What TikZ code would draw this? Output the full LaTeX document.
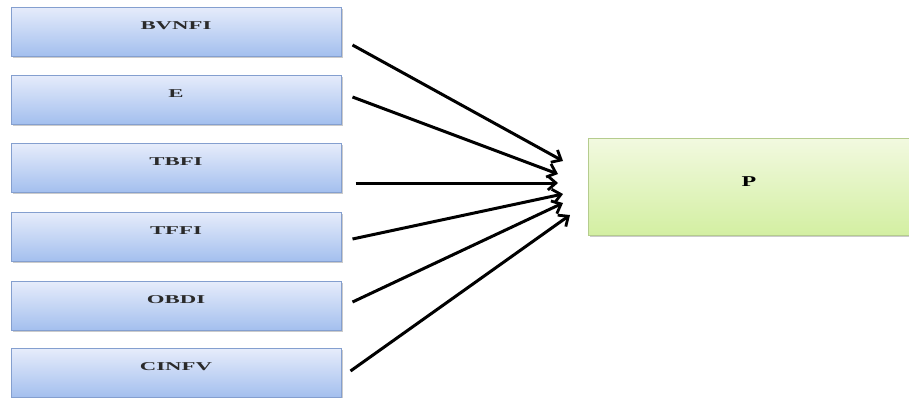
\documentclass[tikz,border=0pt]{standalone}
\usepackage{fontspec}
\setmainfont{Liberation Serif}
\usetikzlibrary{arrows.meta,shadows}
\definecolor{blueTop}{HTML}{E6ECFB}
\definecolor{blueBot}{HTML}{A3BFEE}
\definecolor{blueEdge}{HTML}{849FCF}
\definecolor{greenTop}{HTML}{F2F9E0}
\definecolor{greenBot}{HTML}{D3EFA2}
\definecolor{greenEdge}{HTML}{B5CC8E}
\definecolor{labelInk}{HTML}{2A2A2A}
\tikzset{
  inbox/.style={draw=blueEdge, line width=1pt, top color=blueTop, bottom color=blueBot,
    minimum width=330pt, minimum height=49pt, inner sep=0pt,
    drop shadow={shadow xshift=1.5pt, shadow yshift=-1.5pt, fill=black!40, opacity=0.5}},
  outbox/.style={draw=greenEdge, line width=1pt, top color=greenTop, bottom color=greenBot,
    minimum width=322pt, minimum height=97pt, inner sep=0pt,
    drop shadow={shadow xshift=1.5pt, shadow yshift=-1.5pt, fill=black!40, opacity=0.5}},
  boxtext/.style={font=\fontsize{12}{14}\selectfont\bfseries, text=labelInk},
  arr/.style={line width=3pt, -{Straight Barb[length=8pt, width=14pt, line width=2.8pt]}}
}
\newcommand{\wide}[1]{\scalebox{1.9}[1]{#1}}
\begin{document}
\begin{tikzpicture}[x=1pt, y=-1pt]
  \useasboundingbox[fill=white] (0,0) rectangle (909,397);
  % input factors
  \node[inbox] (b1) at (176,31.5) {};
  \node[inbox] (b2) at (176,99.5) {};
  \node[inbox] (b3) at (176,168) {};
  \node[inbox] (b4) at (176,237) {};
  \node[inbox] (b5) at (176,306) {};
  \node[inbox] (b6) at (176,373) {};
  \node[boxtext] (l1) at ([yshift=6]b1.center) {\wide{BVNFI}};
  \node[boxtext] (l2) at ([yshift=6]b2.center) {\wide{E}};
  \node[boxtext] (l3) at ([yshift=6]b3.center) {\wide{TBFI}};
  \node[boxtext] (l4) at ([yshift=6]b4.center) {\wide{TFFI}};
  \node[boxtext] (l5) at ([yshift=6]b5.center) {\wide{OBDI}};
  \node[boxtext] (l6) at ([yshift=6]b6.center) {\wide{CINFV}};
  % outcome
  \node[outbox] (p) at (749,186.5) {};
  \node[boxtext, text=black, font=\fontsize{15}{17}\selectfont\bfseries] (lp) at ([yshift=5]p.center) {\scalebox{1.6}[1]{P}};
  % arrow tips
  \coordinate (t1) at (563,161);
  \coordinate (t2) at (558,174);
  \coordinate (t3) at (558,183);
  \coordinate (t4) at (563,194);
  \coordinate (t5) at (563,203);
  \coordinate (t6) at (570,215);
  \draw[arr] ([shift={(11,13.5)}]b1.east) -- (t1);
  \draw[arr] ([shift={(11,-2.5)}]b2.east) -- (t2);
  \draw[arr] ([shift={(14,15)}]b3.east) -- (t3);
  \draw[arr] ([shift={(11,2)}]b4.east) -- (t4);
  \draw[arr] ([shift={(11,-4)}]b5.east) -- (t5);
  \draw[arr] ([shift={(9,-2)}]b6.east) -- (t6);
\end{tikzpicture}
\end{document}
